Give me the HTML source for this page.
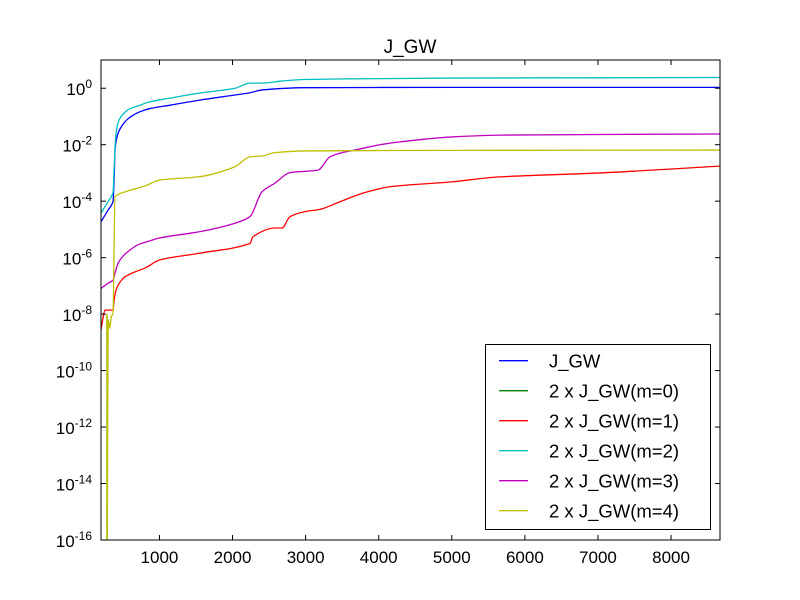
<!DOCTYPE html>
<html><head><meta charset="utf-8"><style>
html,body{margin:0;background:#fff;overflow:hidden;width:800px;height:600px;}
svg{display:block;font-family:"Liberation Sans","DejaVu Sans",sans-serif;}
</style></head><body>
<svg id="chart" width="800" height="600">
<rect width="800" height="600" fill="#fff"/>
<text x="410" y="53" font-size="19" text-anchor="middle">J_GW</text>
<defs><clipPath id="clip"><rect x="101" y="60" width="619" height="480"/></clipPath></defs>
<g id="series" clip-path="url(#clip)"></g>
<g id="axes"></g>
<g id="legend"></g>
</svg>
<script>
const xTicks = [1000,2000,3000,4000,5000,6000,7000,8000];
const yTickExps = [0,-2,-4,-6,-8,-10,-12,-14,-16];
const seriesNames = ["J_GW","2 x J_GW(m=0)","2 x J_GW(m=1)","2 x J_GW(m=2)","2 x J_GW(m=3)","2 x J_GW(m=4)"];
const seriesColors = ["#0000ff","#008000","#ff0000","#00bfbf","#bf00bf","#bfbf00"];
// log10 values
const xBlue = [200,300,364,380,392,405,433,470,528,600,734,870,1144,1554,2033,2238,2402,2990,5000,8668];
const yBlue = [-4.73,-4.3,-4.02,-3.2,-2.2,-1.9,-1.6,-1.4,-1.19,-1.02,-0.83,-0.72,-0.6,-0.42,-0.24,-0.16,-0.06,0.02,0.03,0.03];
const xGreen = [270,282,283,8668];
const yGreen = [-8.1,-8.1,-16.5,-16.5];
const xRed = [200,230,255,364,380,405,440,480,528,650,802,1007,1554,2238,2279,2580,2676,2786,2990,3196,3470,3800,4154,4974,5658,7026,8668];
const yRed = [-8.56,-8.1,-7.86,-7.86,-7.5,-7.15,-6.95,-6.8,-6.68,-6.52,-6.37,-6.08,-5.84,-5.5,-5.26,-4.95,-4.95,-4.55,-4.37,-4.29,-4.02,-3.7,-3.49,-3.32,-3.14,-3.0,-2.76];
const xCyan = [200,300,364,380,400,433,470,528,600,734,870,1144,1554,2033,2238,2402,2649,2990,5000,8668];
const yCyan = [-4.42,-4.0,-3.7,-2.8,-1.75,-1.23,-1.02,-0.85,-0.72,-0.6,-0.48,-0.35,-0.17,0,0.18,0.18,0.25,0.31,0.36,0.38];
const xMag = [200,300,364,392,433,500,597,700,850,1007,1554,2033,2238,2402,2580,2786,3168,3333,3500,3675,4017,4290,4974,5658,8668];
const yMag = [-7.09,-6.9,-6.8,-6.55,-6.2,-5.95,-5.73,-5.55,-5.42,-5.3,-5.08,-4.78,-4.55,-3.67,-3.36,-2.99,-2.9,-2.43,-2.28,-2.19,-2.0,-1.9,-1.73,-1.66,-1.62];
const xYel = [281,282,283,300,320,340,364,392,528,802,1007,1554,2033,2238,2402,2580,2990,5000,8668];
const yYel = [-16.5,-8.0,-16.5,-8.2,-8.5,-8.1,-7.97,-3.84,-3.67,-3.46,-3.25,-3.13,-2.78,-2.43,-2.4,-2.28,-2.22,-2.2,-2.19];
const seriesX = [xBlue,xGreen,xRed,xCyan,xMag,xYel];
const seriesY = [yBlue,yGreen,yRed,yCyan,yMag,yYel];

const NS="http://www.w3.org/2000/svg";
const L=101,R=720,T=60,B=540,XMIN=200,XMAX=8670,YMIN=-16,YMAX=1;
function sx(v){return L+(v-XMIN)/(XMAX-XMIN)*(R-L);}
function sy(v){return B-(v-YMIN)/(YMAX-YMIN)*(B-T);}
function mk(tag,attrs,parent){const e=document.createElementNS(NS,tag);for(const k in attrs)e.setAttribute(k,attrs[k]);parent.appendChild(e);return e;}
// monotone cubic (no overshoot)
function smoothPath(xs,ys){
  const p=xs.map((x,j)=>[sx(x),sy(ys[j])]);
  const n=p.length,dk=[],m=[];
  for(let j=0;j<n-1;j++){const h=p[j+1][0]-p[j][0];dk.push(h>0?(p[j+1][1]-p[j][1])/h:0);}
  for(let j=0;j<n;j++){
    if(j===0)m.push(dk[0]);else if(j===n-1)m.push(dk[n-2]);
    else{const a=dk[j-1],b=dk[j];m.push(a*b<=0?0:2/(1/a+1/b));}
  }
  let d='M'+p[0][0].toFixed(2)+' '+p[0][1].toFixed(2);
  for(let j=0;j<n-1;j++){
    const h=(p[j+1][0]-p[j][0])/3;
    if(h<=0.05){d+=' L'+p[j+1][0].toFixed(2)+' '+p[j+1][1].toFixed(2);continue;}
    d+=' C'+(p[j][0]+h).toFixed(2)+' '+(p[j][1]+m[j]*h).toFixed(2)+' '+(p[j+1][0]-h).toFixed(2)+' '+(p[j+1][1]-m[j+1]*h).toFixed(2)+' '+p[j+1][0].toFixed(2)+' '+p[j+1][1].toFixed(2);
  }
  return d;
}
const gS=document.getElementById('series'),gA=document.getElementById('axes'),gL=document.getElementById('legend');
[0,1,2,3,4,5].forEach(i=>{
  const p=mk('path',{d:smoothPath(seriesX[i],seriesY[i]),fill:'none',stroke:seriesColors[i],'stroke-width':1.3,'stroke-linejoin':'round'},gS);
  
  
});
const frame=mk('rect',{x:L,y:T,width:R-L,height:B-T,fill:'none',stroke:'#000','stroke-width':1},gA);


xTicks.forEach(t=>{
  const x=sx(t);
  mk('line',{x1:x,x2:x,y1:B,y2:B-5,stroke:'#000'},gA);
  mk('line',{x1:x,x2:x,y1:T,y2:T+5,stroke:'#000'},gA);
  const tx=mk('text',{x:x,y:B+23,'font-size':17,'text-anchor':'middle'},gA);
  tx.textContent=t;
  
  
});
yTickExps.forEach(e=>{
  const y=sy(e);
  mk('line',{x1:L,x2:L+5,y1:y,y2:y,stroke:'#000'},gA);
  mk('line',{x1:R,x2:R-5,y1:y,y2:y,stroke:'#000'},gA);
  const tx=mk('text',{x:92,y:y+7,'font-size':17,'text-anchor':'end'},gA);
  
  
  const a=document.createElementNS(NS,'tspan');a.textContent='10';tx.appendChild(a);
  const b=document.createElementNS(NS,'tspan');b.setAttribute('dy','-7');b.setAttribute('font-size','12');b.textContent=String(e);tx.appendChild(b);
});
const lb=mk('rect',{x:485.5,y:344.5,width:225,height:185,fill:'#fff',stroke:'#000'},gL);


seriesNames.forEach((n,i)=>{
  const y=360.7+i*30;
  const ln=mk('line',{x1:499,x2:528,y1:y,y2:y,stroke:seriesColors[i],'stroke-width':1.3},gL);
  
  
  const tx=mk('text',{x:549,y:y+7,'font-size':18.5},gL);
  tx.textContent=n;
  
  
});
</script>
</body></html>
